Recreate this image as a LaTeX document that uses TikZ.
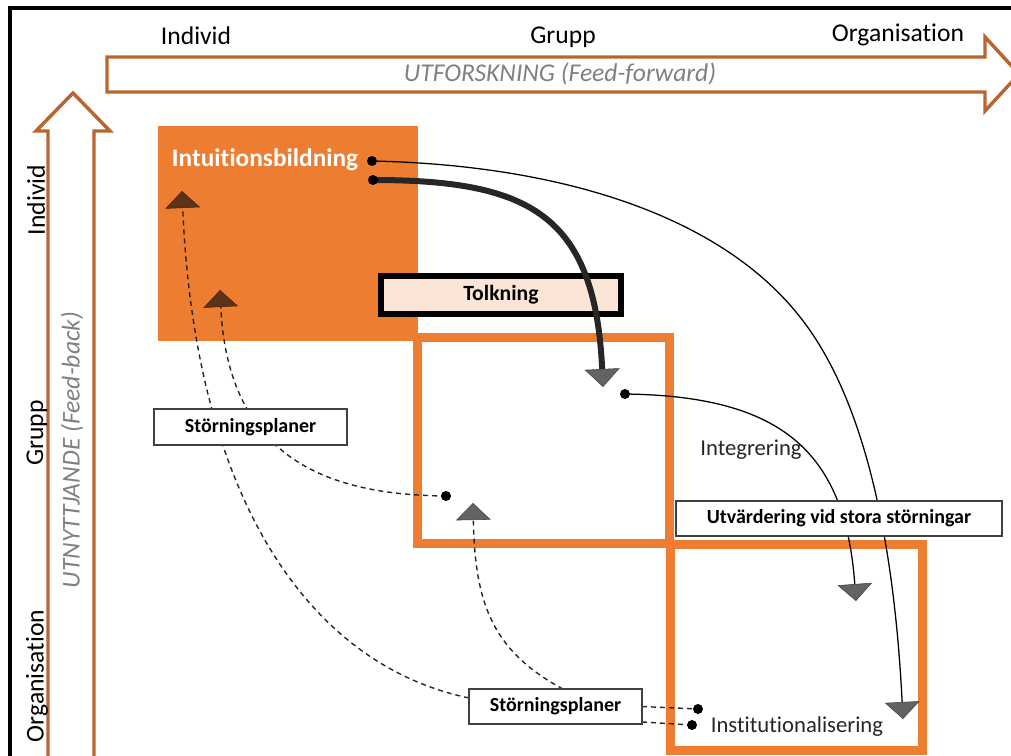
\documentclass[tikz,border=0pt]{standalone}
\usepackage{fontspec}
\setmainfont{Carlito}[Ligatures=NoCommon]
\usetikzlibrary{arrows.meta}
\definecolor{orng}{HTML}{ED7D31}
\definecolor{rust}{HTML}{B9652F}
\definecolor{peach}{HTML}{FBE5D6}
\definecolor{txtgray}{HTML}{808080}
\definecolor{tipgray}{HTML}{636363}
\definecolor{tipbrown}{HTML}{5E3216}
\definecolor{inkdark}{HTML}{262626}
\definecolor{boxedge}{HTML}{404040}
\pgfdeclarelayer{bg}
\pgfdeclarelayer{mid}
\pgfsetlayers{bg,mid,main}
\tikzset{
  graytip/.tip={Triangle[width=26pt,length=12.75pt,fill=tipgray,color=boxedge,line width=0.4pt]},
  browntip/.tip={Triangle[width=26pt,length=12.75pt,fill=tipbrown,color=tipbrown!70!black,line width=0.4pt]},
  bigtip/.tip={Triangle[width=26.25pt,length=13.5pt,fill=tipgray,color=boxedge,line width=0.4pt]},
  axislbl/.style={font=\fontsize{19.2}{23}\selectfont, text=black, inner sep=0pt},
  flowlbl/.style={font=\fontsize{19.2}{23}\itshape\selectfont, text=txtgray, inner sep=0pt},
  quad/.style={draw=orng, line width=6.75pt, minimum width=189pt, minimum height=154.5pt, inner sep=0pt, outer sep=0pt},
  lblbox/.style={draw=boxedge, line width=1.1pt, fill=white, inner sep=0pt, outer sep=0pt,
    minimum height=26.25pt, font=\fontsize{15}{18}\bfseries\selectfont},
  dot/.style={circle, fill=black, inner sep=0pt, minimum size=7.5pt},
  thin/.style={draw=black, line width=0.95pt},
  dashedlink/.style={draw=inkdark, line width=1.05pt, dash pattern=on 3.75pt off 3pt},
  plain/.style={font=\fontsize{17}{20}\selectfont, text=inkdark, inner sep=0pt}
}
\begin{document}
\begin{tikzpicture}[x=0.75pt,y=-0.75pt]
\useasboundingbox (0,0) rectangle (1011,756);

% page frame
\draw[line width=3pt, line join=miter] (9.5,760) -- (9.5,8.5) -- (1015,8.5);

% flow arrows
\draw[rust, line width=2.6pt, fill=white, line join=miter]
  (107,57) -- (985,57) -- (985,37) -- (1019,74) -- (985,111) -- (985,92) -- (107,92) -- cycle;
\draw[rust, line width=2.6pt, fill=white, line join=miter]
  (48,762) -- (48,131) -- (36,131) -- (73,93) -- (110,131) -- (94,131) -- (94,762);

\node[flowlbl] (fwd) at (560,74) {UTFORSKNING (Feed-forward)};
\node[flowlbl, rotate=90] (back) at (72,450) {UTNYTTJANDE (Feed-back)};

% level labels
\node[axislbl] (xind) at (196,36) {Individ};
\node[axislbl] (xgrp) at (563,37) {Grupp};
\node[axislbl] (xorg) at (898,35) {Organisation};
\node[axislbl, rotate=90] (yind) at (36,200) {Individ};
\node[axislbl, rotate=90] (ygrp) at (37,433) {Grupp};
\node[axislbl, rotate=90] (yorg) at (37,676) {Organisation};

% the three quadrants
\begin{pgfonlayer}{bg}
\node[fill=orng, minimum width=195pt, minimum height=161.25pt, inner sep=0pt, outer sep=0pt] (intu) at (288,233.5) {};
\node[quad] (grp) at (543.5,440.5) {};
\node[quad] (org) at (796.5,647) {};
\node[draw=black, line width=4.5pt, fill=peach, minimum width=180pt, minimum height=28.5pt,
      inner sep=0pt, font=\fontsize{16.3}{19}\bfseries\selectfont] (tolk) at (501,295) {Tolkning};
\end{pgfonlayer}

\node[font=\fontsize{19}{23}\bfseries\selectfont, text=white, inner sep=0pt] (intulbl) at (265,160) {Intuitionsbildning};
\node[plain] (integ) at (751,450) {Integrering};
\node[plain] (inst) at (797,727) {Institutionalisering};

% label boxes
\node[lblbox, minimum width=144.75pt, minimum height=27pt] (sp1) at (250.5,427) {Störningsplaner};
\node[lblbox, minimum width=129.75pt] (sp2) at (555.5,706.5) {Störningsplaner};
\node[lblbox, minimum width=244.5pt] (utv) at (839,518.5) {Utvärdering vid stora störningar};

% start points
\node[dot] (d1) at (372,161) {};
\node[dot] (d2) at (373,180) {};
\node[dot] (d3) at (625,394) {};
\node[dot] (d4) at (446,496) {};
\node[dot] (d5) at (698,709) {};
\node[dot] (d6) at (692,725) {};

% arrow ends
\coordinate (t1) at (903,719);
\coordinate (t2) at (603,387);
\coordinate (t3) at (856,601);
\coordinate (t4) at (220,290);
\coordinate (t5) at (182,191);
\coordinate (t6) at (473,503);

\begin{pgfonlayer}{mid}
% feed-forward links
\draw[inkdark, line width=4.5pt, -{bigtip}]
  (d2.center) .. controls (530,180) and (595,215) .. (t2);
\draw[thin, -{graytip}]
  (d1.center) .. controls (560,165) and (720,215) .. (800,317)
  .. controls (870,405) and (895,560) .. (t1);
\draw[thin, -{graytip}]
  (d3.center) .. controls (780,396) and (845,450) .. (t3);
% feedback links
\draw[dashedlink, -{browntip}]
  (d4.center) .. controls (330,495) and (228,460) .. (t4);
\draw[dashedlink, -{browntip}]
  ([yshift=6.4pt]sp2.west) .. controls (310,665) and (195,500) .. (t5);
\draw[dashedlink, -{graytip}]
  ([xshift=5.6pt]sp2.north) .. controls (490,650) and (475,600) .. (t6);
\draw[dashedlink] (sp2.east) -- (d5.center);
\draw[dashedlink] ([yshift=-11.6pt]sp2.east) -- (d6.center);
\end{pgfonlayer}
\end{tikzpicture}
\end{document}
